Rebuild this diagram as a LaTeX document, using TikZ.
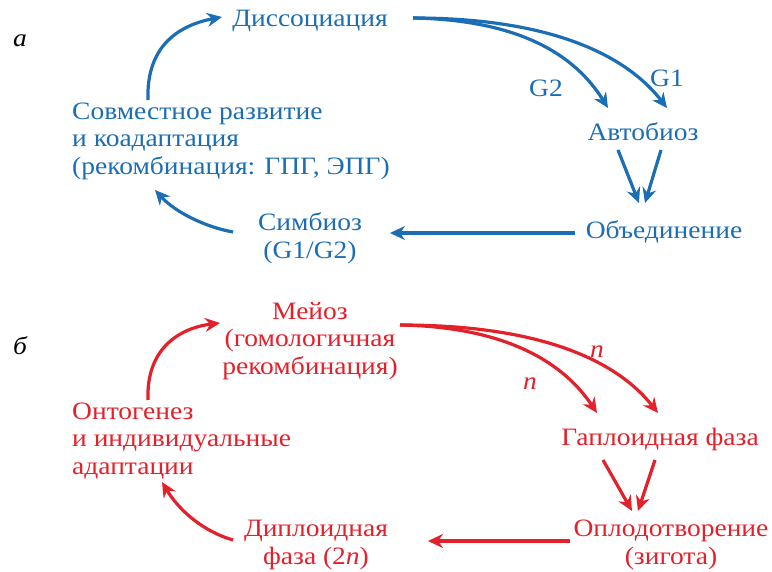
\documentclass[tikz,border=0pt]{standalone}
\usepackage{fontspec}
\setmainfont{Liberation Serif}[FakeStretch=1.1]
\usetikzlibrary{arrows.meta}
\definecolor{myblue}{HTML}{1B6DB4}
\definecolor{myred}{HTML}{E4202A}
\tikzset{
  lbl/.style={inner sep=0pt, font=\fontsize{25}{27.5}\selectfont},
  blu/.style={lbl, text=myblue},
  rd/.style={lbl, text=myred},
  itl/.style={font=\fontsize{25}{27}\selectfont\itshape},
  arr/.style={line width=3.2pt, -{Stealth[length=15pt,width=14pt,inset=5pt]}},
  barr/.style={arr, draw=myblue},
  rarr/.style={arr, draw=myred},
}
\begin{document}
\begin{tikzpicture}[x=1pt,y=-1pt]
\useasboundingbox (0,0) rectangle (772,572);
% ---- part a ----
\node[lbl, itl] (la) at (20,41) {а};
\node[blu] (diss) at (310,21) {Диссоциация};
\node[blu] (auto) at (643,132) {Автобиоз};
\node[blu] (obj) at (664,232) {Объединение};
\node[blu, align=center] (simb) at (310,238) {Симбиоз\\(G1/G2)};
\node[blu, align=left, anchor=west] (sovm) at (72,141) {Совместное развитие\\и коадаптация\\(рекомбинация: ГПГ, ЭПГ)};
\node[blu] (g2) at (546,88) {G2};
\node[blu] (g1) at (667,78) {G1};
\coordinate (dS) at (413,18);
\coordinate (aL) at (608,108);
\coordinate (aR) at (667,108);
\coordinate (aLs) at (618,150);
\coordinate (aRs) at (661,150);
\coordinate (oL) at (639,203);
\coordinate (oR) at (645,203);
\coordinate (oW) at (575,233);
\coordinate (sE) at (390,233);
\coordinate (sW) at (233,232);
\coordinate (cB) at (155,190);
\coordinate (cT) at (148,100);
\coordinate (dW) at (222,17);
\draw[barr] (dS) .. controls (520,20) and (575,55) .. (aL);
\draw[barr] (dS) .. controls (560,18) and (630,60) .. (aR);
\draw[barr] (aLs) -- (oL);
\draw[barr] (aRs) -- (oR);
\draw[barr] (oW) -- (sE);
\draw[barr] (sW) .. controls (205,227) and (175,212) .. (cB);
\draw[barr] (cT) .. controls (146,45) and (180,25) .. (dW);
% ---- part b ----
\node[lbl, itl] (lb) at (20,346) {б};
\node[rd, align=center] (meioz) at (310,341) {Мейоз\\(гомологичная\\рекомбинация)};
\node[rd] (gapl) at (660,439) {Гаплоидная фаза};
\node[rd, align=center] (oplod) at (671,545) {Оплодотворение\\(зигота)};
\node[rd, align=center] (dipl) at (316,545) {Диплоидная\\фаза (2\textit{n})};
\node[rd, align=left, anchor=west] (onto) at (72,441) {Онтогенез\\и индивидуальные\\адаптации};
\node[rd, itl] (n1) at (597,352) {n};
\node[rd, itl] (n2) at (530,384) {n};
\coordinate (mS) at (400,325);
\coordinate (hL) at (597,413);
\coordinate (hR) at (658,413);
\coordinate (hLs) at (603,460);
\coordinate (hRs) at (655,460);
\coordinate (zL) at (632,511);
\coordinate (zR) at (638,511);
\coordinate (zW) at (570,541);
\coordinate (dE) at (428,541);
\coordinate (dWw) at (233,540);
\coordinate (oB) at (162,482);
\coordinate (oT) at (148,400);
\coordinate (mW) at (220,323);
\draw[rarr] (mS) .. controls (510,327) and (565,365) .. (hL);
\draw[rarr] (mS) .. controls (550,325) and (620,365) .. (hR);
\draw[rarr] (hLs) -- (zL);
\draw[rarr] (hRs) -- (zR);
\draw[rarr] (zW) -- (dE);
\draw[rarr] (dWw) .. controls (205,532) and (180,512) .. (oB);
\draw[rarr] (oT) .. controls (146,348) and (180,328) .. (mW);
\end{tikzpicture}
\end{document}
